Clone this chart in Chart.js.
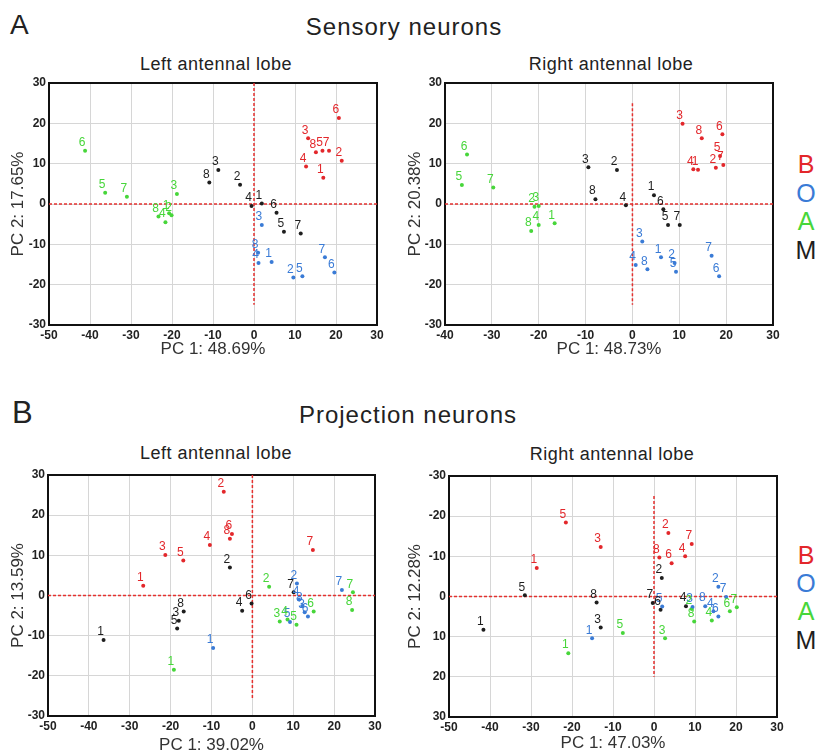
<!DOCTYPE html>
<html>
<head>
<meta charset="utf-8">
<title>PCA odour panels</title>
<script src="https://cdn.jsdelivr.net/npm/chart.js@4.4.0/dist/chart.umd.min.js"></script>
<style>
  body { margin: 0; background: #fff; font-family: "Liberation Sans", Arial, sans-serif; color: #222; }
  #page { position: relative; width: 819px; height: 756px; overflow: hidden; }
  .txt { position: absolute; line-height: 1; white-space: nowrap; }
  .ctr { transform: translateX(-50%); }
  canvas { position: absolute; }
</style>
</head>
<body>
<div id="page">
  <div class="txt" style="left:10px;top:11px;font-size:28px">A</div>
  <div class="txt ctr" style="left:404px;top:15px;font-size:24px;letter-spacing:1px">Sensory neurons</div>
  <div class="txt ctr" style="left:216px;top:55px;font-size:18px;letter-spacing:0.5px">Left antennal lobe</div>
  <div class="txt ctr" style="left:611px;top:55px;font-size:18px;letter-spacing:0.5px">Right antennal lobe</div>

  <div class="txt" style="left:12px;top:397px;font-size:31px">B</div>
  <div class="txt ctr" style="left:408px;top:403px;font-size:24px;letter-spacing:1px">Projection neurons</div>
  <div class="txt ctr" style="left:216px;top:444px;font-size:18px;letter-spacing:0.5px">Left antennal lobe</div>
  <div class="txt ctr" style="left:612px;top:445px;font-size:18px;letter-spacing:0.5px">Right antennal lobe</div>

  <div id="legendA"></div>
  <div id="legendB"></div>

  <canvas id="snLeft" width="400" height="300" style="left:0;top:70px"></canvas>
  <canvas id="snRight" width="419" height="300" style="left:400px;top:70px"></canvas>
  <canvas id="pnLeft" width="400" height="294" style="left:0;top:462px"></canvas>
  <canvas id="pnRight" width="419" height="294" style="left:400px;top:462px"></canvas>
</div>

<script>
// groups (odour classes) and their colours
const groups = ['B', 'O', 'A', 'M'];
const groupColors = ['#e3272b', '#3a7bd6', '#47d63a', '#1e1e1e'];

// [PC1, PC2] per animal 1..8
// Sensory neurons, left lobe
const snLeftB = [[16.9,6.5],[21.4,10.7],[13.2,16.3],[12.7,9.3],[16.7,13.2],[20.7,21.3],[18.3,13.2],[15.1,12.8]];
const snLeftO = [[4.3,-14.4],[9.6,-18.2],[1.9,-5.2],[1.1,-14.6],[11.8,-17.9],[19.6,-17.0],[17.3,-13.2],[1.0,-12.1]];
const snLeftA = [[-20.7,-2.3],[-20.1,-2.8],[-18.8,2.5],[-21.6,-4.5],[-36.3,2.8],[-41.2,13.2],[-31.0,1.8],[-23.3,-3.1]];
const snLeftM = [[1.9,0.1],[-3.4,4.8],[-8.7,8.4],[-0.6,-0.5],[7.3,-6.9],[5.5,-2.2],[11.4,-7.3],[-10.9,5.3]];
// Sensory neurons, right lobe
const snRightB = [[14.0,8.5],[17.8,9.0],[10.7,19.9],[13.0,8.6],[18.7,11.9],[19.2,17.3],[19.4,9.7],[14.8,16.3]];
const snRightO = [[6.1,-13.2],[9.0,-14.6],[2.1,-9.3],[0.7,-15.1],[9.3,-16.8],[18.5,-17.9],[16.9,-12.8],[3.2,-16.2]];
const snRightA = [[-16.6,-4.8],[-20.9,-0.7],[-20.0,-0.5],[-20.0,-5.2],[-36.4,4.7],[-35.3,12.3],[-29.7,4.1],[-21.6,-6.7]];
const snRightM = [[4.6,2.2],[-3.3,8.4],[-9.4,9.1],[-1.4,-0.3],[7.6,-5.2],[6.6,-1.3],[10.1,-5.2],[-7.9,1.2]];
// Projection neurons, left lobe
const pnLeftB = [[-26.7,2.4],[-7.0,25.8],[-21.3,10.1],[-10.4,12.6],[-16.9,8.7],[-5.0,15.3],[14.8,11.3],[-5.5,14.1]];
const pnLeftO = [[-9.6,-13.1],[10.9,3.0],[12.8,-4.2],[11.4,-1.0],[9.2,-6.6],[13.6,-5.2],[21.9,1.4],[12.2,-2.6]];
const pnLeftA = [[-19.2,-18.5],[4.1,2.2],[6.7,-6.5],[8.6,-6.0],[10.8,-7.3],[15.0,-4.0],[24.6,0.8],[24.4,-3.6]];
const pnLeftM = [[-36.4,-11.1],[-5.5,7.0],[-18.0,-6.3],[-2.5,-3.8],[-18.4,-8.2],[-0.2,-2.0],[10.1,0.8],[-16.8,-4.0]];
// Projection neurons, right lobe (PC2 axis is reversed)
const pnRightB = [[-28.6,-7.1],[3.5,-15.8],[-13.0,-12.3],[7.6,-10.0],[-21.5,-18.4],[4.3,-8.3],[9.2,-13.1],[1.3,-9.7]];
const pnRightO = [[-15.1,10.4],[15.7,-2.4],[9.4,2.6],[14.5,3.7],[2.0,2.5],[15.7,5.0],[17.6,0.1],[12.5,2.4]];
const pnRightA = [[-20.9,14.1],[9.2,3.1],[2.7,10.4],[14.1,6.0],[-7.6,9.1],[18.5,3.7],[20.2,2.7],[9.8,6.2]];
const pnRightM = [[-41.6,8.3],[1.9,-4.6],[-13.0,7.7],[7.8,2.4],[-31.5,-0.3],[1.6,3.3],[-0.3,1.6],[-14.0,1.5]];

// axis ranges
const snLeftX = [-50, 30];
const snRightX = [-40, 30];
const pnLeftX = [-50, 30];
const pnRightX = [-50, 30];
const pcY = [-30, 30];

// red dashed zero lines: horizontal x-extent, vertical y-extent
const snLeftVLine = [30, -25];
const snRightVLine = [25, -25];
const pnLeftVLine = [30, -25.5];
const pnRightVLine = [-25, 20];

const FONT = '"Liberation Sans", Arial, sans-serif';

//-----LEGENDS
function drawLegend(id, centers){
  const box = document.getElementById(id);
  groups.forEach((g, i) => {
    const d = document.createElement('div');
    d.className = 'txt ctr';
    d.style.left = '806px';
    d.style.top = (centers[i] + 9 - 21) + 'px';
    d.style.fontSize = '25px';
    d.style.color = groupColors[i];
    d.textContent = g;
    box.appendChild(d);
  });
}
drawLegend('legendA', [164, 193, 221, 250]);
drawLegend('legendB', [555, 583, 611, 640]);

//-----PLUGINS
const frame = {
  id: 'frame',
  beforeDatasetsDraw(chart){
    const a = chart.chartArea, ctx = chart.ctx;
    ctx.save();
    ctx.strokeStyle = '#111';
    ctx.lineWidth = 2;
    ctx.strokeRect(a.left, a.top, a.right - a.left, a.bottom - a.top);
    ctx.restore();
  }
};

const pointNumbers = {
  id: 'pointNumbers',
  afterDatasetsDraw(chart){
    const ctx = chart.ctx;
    ctx.save();
    ctx.font = '12px ' + FONT;
    ctx.textAlign = 'center';
    ctx.textBaseline = 'middle';
    chart.data.datasets.forEach((ds, i) => {
      if (ds.isRef) return;
      ctx.fillStyle = ds.backgroundColor;
      chart.getDatasetMeta(i).data.forEach((pt, j) => {
        ctx.fillText(String(j + 1), pt.x - 3, pt.y - 8);
      });
    });
    ctx.restore();
  }
};

//-----CHARTS
function drawPanel(p){
  const datasets = p.series.map((s, i) => ({
    data: s.map(v => ({x: v[0], y: v[1]})),
    backgroundColor: groupColors[i],
    pointRadius: 2,
    pointBorderWidth: 0
  }));
  const refStyle = {showLine: true, borderColor: '#e5312f', borderWidth: 1.5, borderDash: [3, 2], pointRadius: 0, isRef: true};
  datasets.push(Object.assign({data: [{x: p.x[0], y: 0}, {x: p.x[1], y: 0}]}, refStyle));
  datasets.push(Object.assign({data: [{x: 0, y: p.vLine[0]}, {x: 0, y: p.vLine[1]}]}, refStyle));

  const tickFont = {family: FONT, size: 12, weight: 'bold'};
  const titleFont = {family: FONT, size: 17};

  return new Chart(document.getElementById(p.id), {
    type: 'scatter',
    data: {datasets: datasets},
    options: {
      responsive: false,
      animation: false,
      layout: {padding: p.pad},
      plugins: {legend: {display: false}, tooltip: {enabled: false}},
      scales: {
        x: {
          type: 'linear', min: p.x[0], max: p.x[1],
          ticks: {stepSize: 10, font: tickFont, color: '#222', padding: 3, maxRotation: 0},
          grid: {color: '#d6d6d6', drawTicks: false},
          border: {display: false},
          title: {display: true, text: p.xTitle, font: titleFont, color: '#333', padding: {top: 0, bottom: p.xTitlePad}},
          afterFit(s){ s.height = p.xH; }
        },
        y: {
          type: 'linear', min: pcY[0], max: pcY[1], reverse: !!p.reverse,
          ticks: {stepSize: 10, font: tickFont, color: '#222', padding: 3},
          grid: {color: '#d6d6d6', drawTicks: false},
          border: {display: false},
          title: {display: true, text: p.yTitle, font: titleFont, color: '#333', padding: {top: p.yTitlePad, bottom: 0}},
          afterFit(s){ s.width = p.yW; }
        }
      }
    },
    plugins: [frame, pointNumbers]
  });
}

drawPanel({id: 'snLeft', series: [snLeftB, snLeftO, snLeftA, snLeftM], x: snLeftX, vLine: snLeftVLine,
  xTitle: 'PC 1: 48.69%', yTitle: 'PC 2: 17.65%',
  pad: {top: 13, right: 23, left: 0, bottom: 0}, yW: 49, xH: 45, xTitlePad: 10, yTitlePad: 8});
drawPanel({id: 'snRight', series: [snRightB, snRightO, snRightA, snRightM], x: snRightX, vLine: snRightVLine,
  xTitle: 'PC 1: 48.73%', yTitle: 'PC 2: 20.38%',
  pad: {top: 13, right: 46, left: 0, bottom: 0}, yW: 45, xH: 45, xTitlePad: 10, yTitlePad: 5});
drawPanel({id: 'pnLeft', series: [pnLeftB, pnLeftO, pnLeftA, pnLeftM], x: pnLeftX, vLine: pnLeftVLine,
  xTitle: 'PC 1: 39.02%', yTitle: 'PC 2: 13.59%',
  pad: {top: 13, right: 25, left: 0, bottom: 0}, yW: 48, xH: 40, xTitlePad: 0, yTitlePad: 8});
drawPanel({id: 'pnRight', series: [pnRightB, pnRightO, pnRightA, pnRightM], x: pnRightX, vLine: pnRightVLine, reverse: true,
  xTitle: 'PC 1: 47.03%', yTitle: 'PC 2: 12.28%',
  pad: {top: 14, right: 42, left: 0, bottom: 0}, yW: 49, xH: 39, xTitlePad: 2, yTitlePad: 5});
</script>
</body>
</html>
